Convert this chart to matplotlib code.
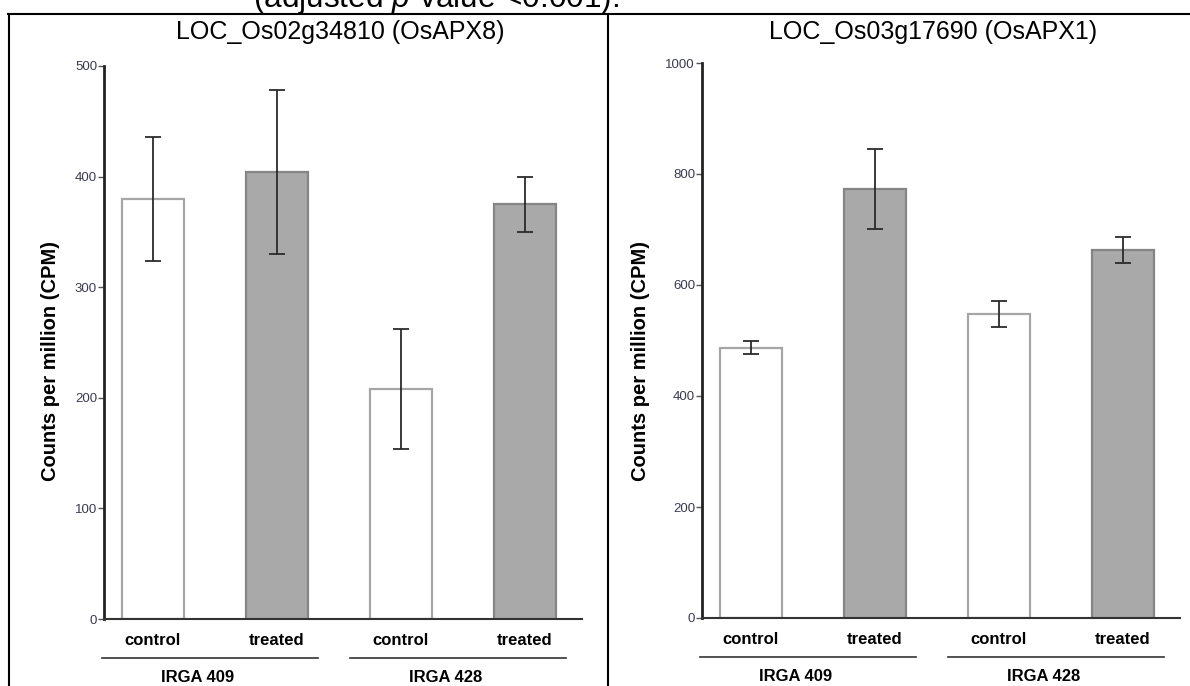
import numpy as np
import matplotlib
matplotlib.use("Agg")
import matplotlib.pyplot as plt
from matplotlib.lines import Line2D

plt.rcParams['font.family'] = ['Liberation Sans', 'DejaVu Sans']
plt.rcParams['mathtext.fontset'] = 'custom'
plt.rcParams['mathtext.rm'] = 'Liberation Sans'
plt.rcParams['mathtext.it'] = 'Liberation Sans:italic'

# data
genes = ["LOC_Os02g34810 (OsAPX8)", "LOC_Os03g17690 (OsAPX1)"]
conditions = ["control", "treated", "control", "treated"]
cultivars = ["IRGA 409", "IRGA 428"]
apx8_cpm = [380, 404, 208, 375]
apx8_err = [56, 74, 54, 25]
apx1_cpm = [487, 773, 548, 663]
apx1_err = [12, 72, 24, 23]
ymax = [500, 1000]
ystep = [100, 200]

fill = ['white', '#a9a9a9', 'white', '#a9a9a9']
edge = ['#a6a6a6', '#858585', '#a6a6a6', '#858585']

W, H = 1190, 686
fig = plt.figure(figsize=(W / 100, H / 100), dpi=100)

axes_px = [(104, 582, 66, 619), (702, 1180, 63, 618)]
title_x = [340, 933]
ylab_x = [51, 641]

for k, (means, errs) in enumerate([(apx8_cpm, apx8_err), (apx1_cpm, apx1_err)]):
    x0, x1, ytop, ybot = axes_px[k]
    ax = fig.add_axes([x0 / W, 1 - ybot / H, (x1 - x0) / W, (ybot - ytop) / H])
    x = np.arange(len(means))
    ax.bar(x, means, width=0.5, color=fill, edgecolor=edge, linewidth=1.6, zorder=2)
    ax.errorbar(x, means, yerr=errs, fmt='none', ecolor='#2b2b2b', elinewidth=1.3,
                capsize=6, capthick=1.3, zorder=3)
    ax.set_xlim(-0.395, 3.46)
    ax.set_ylim(0, ymax[k])
    ax.set_yticks(np.arange(0, ymax[k] + 1, ystep[k]))
    ax.tick_params(axis='y', direction='out', length=4, width=1, colors='#555555',
                   labelsize=9.5, labelcolor='#3a3a50', pad=1)
    ax.set_xticks([])
    for s in ['top', 'right']:
        ax.spines[s].set_visible(False)
    ax.spines['left'].set_color('#222222')
    ax.spines['left'].set_linewidth(2)
    ax.spines['bottom'].set_color('#333333')
    ax.spines['bottom'].set_linewidth(1.5)
    ax.patch.set_visible(False)

    tr = ax.get_xaxis_transform()
    for xi, lab in zip(x, conditions):
        ax.text(xi, -0.038, lab, transform=tr, ha='center', va='center',
                fontsize=12, fontweight='bold', clip_on=False)
    for g, cv in enumerate(cultivars):
        xs = x[2 * g:2 * g + 2]
        ax.add_line(Line2D([xs[0] - 0.41, xs[-1] + 0.33], [-0.0705, -0.0705], transform=tr,
                           color='#333333', lw=1.2, clip_on=False))
        ax.text(xs.mean() - 0.14, -0.105, cv, transform=tr, ha='center', va='center',
                fontsize=12, fontweight='bold', clip_on=False)

    fig.text(title_x[k] / W, 1 - 32 / H, genes[k], ha='center', va='center', fontsize=18)
    fig.text(ylab_x[k] / W, 1 - 361 / H, 'Counts per million (CPM)', rotation=90,
             ha='center', va='center', fontsize=14.5, fontweight='bold')

# table borders around the panels
lw = 1.5
fig.add_artist(Line2D([8 / W, 1], [1 - 13.5 / H, 1 - 13.5 / H], color='black', lw=lw))
fig.add_artist(Line2D([9 / W, 9 / W], [0, 1 - 13.5 / H], color='black', lw=lw))
fig.add_artist(Line2D([608 / W, 608 / W], [0, 1 - 13.5 / H], color='black', lw=lw))

# caption text cut off by the top edge
fig.text(253 / W, 1 - 7.5 / H, r'(adjusted $p$-value <0.001).', ha='left', va='baseline',
         fontsize=22.7)

fig.savefig('out.png', dpi=100)
